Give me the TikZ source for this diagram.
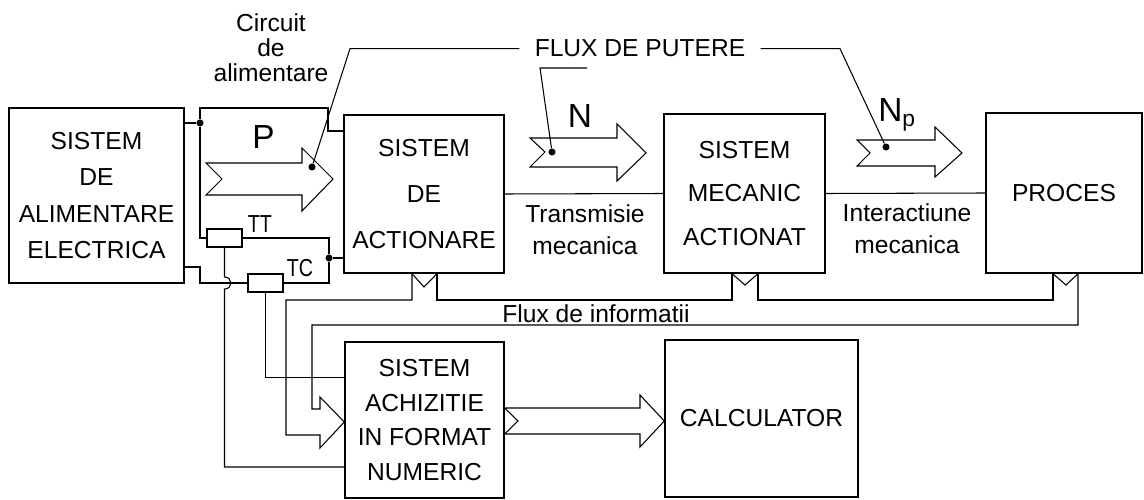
\documentclass[tikz,border=0pt]{standalone}
\usepackage{fontspec}
\setmainfont{Liberation Sans}
\usetikzlibrary{positioning, calc}

\begin{document}
\begin{tikzpicture}[
    x=0.02cm, y=-0.02cm,
    block/.style={draw, line width=0.8pt, rectangle, inner sep=0pt, align=center},
    res/.style={draw, line width=0.7pt, rectangle, minimum width=0.7cm, minimum height=0.36cm, inner sep=0pt},
    wire/.style={line width=0.6pt},
    txt/.style={font=\fontsize{14}{18}\selectfont, align=center, inner sep=0pt},
    small/.style={font=\fontsize{14}{14}\selectfont, inner sep=0pt},
    big/.style={font=\fontsize{19}{19}\selectfont, inner sep=0pt},
    dot/.style={circle, fill, inner sep=0pt, minimum size=4pt}
]
\useasboundingbox (0,0) rectangle (1144,500);

% Blocks
\node[block, minimum width=3.5cm, minimum height=3.5cm, font=\fontsize{14}{20.8}\selectfont] (alim) at (96.5,195.5) {SISTEM\\DE\\ALIMENTARE\\ELECTRICA};
\node[block, minimum width=3.2cm, minimum height=3.16cm, font=\fontsize{14}{26}\selectfont] (actionare) at (424,194) {SISTEM\\DE\\ACTIONARE};
\node[block, minimum width=3.22cm, minimum height=3.18cm, font=\fontsize{14}{25}\selectfont] (mecanic) at (744.5,193.5) {SISTEM\\MECANIC\\ACTIONAT};
\node[block, minimum width=3.12cm, minimum height=3.2cm, font=\fontsize{14}{14}\selectfont] (proces) at (1064,193) {PROCES};
\node[block, minimum width=3.18cm, minimum height=3.12cm, font=\fontsize{14}{19.8}\selectfont] (achizitie) at (424.5,420) {SISTEM\\ACHIZITIE\\IN FORMAT\\NUMERIC};
\node[block, minimum width=3.86cm, minimum height=3.14cm, font=\fontsize{14}{14}\selectfont] (calculator) at (761.5,418.5) {CALCULATOR};

% Transducers
\node[res] (tt) at (224.5,238) {};
\node[res] (tc) at (265.5,283) {};
\node[small, anchor=south west, above right=-2.3pt and 2.8pt of tt.north east] {\scalebox{0.8}[1]{TT}};
\node[small, anchor=south west, above right=-2.3pt and 1.7pt of tc.north east] {\scalebox{0.8}[1]{TC}};

% Junctions
\node[dot] (j1) at (200,123) {};
\node[dot] (j2) at (329,258) {};

% Supply circuit
\draw[wire] (alim.east |- j1) -- (j1) -- (200,108) -- (328,108) -- (328,131) -- (actionare.west |- 0,131);
\draw[wire] (j1) |- (tt.west);
\draw[wire] (tt.east) -| (j2);
\draw[wire] (j2) -- (actionare.west |- j2);
\draw[wire] (alim.east |- 0,267) -- (200,267) |- (tc.west);
\draw[wire] (tc.east) -| (j2);
\draw[wire] (tt.south) -- (tt.south |- 0,277) .. controls (233,277) and (233,289) .. (tt.south |- 0,289) -- (tt.south |- 0,467) -- (achizitie.west |- 0,467);
\draw[wire] (tc.south) -- (tc.south |- 0,377.5) -- (achizitie.west |- 0,377.5);

% Mechanical links
\draw[wire] (actionare.east) -- (mecanic.west);
\draw[wire] (mecanic.east) -- (proces.west);

% Power flow arrows
\draw[wire] (206,163) -- (302,163) -- (302,148) -- (333,179) -- (302,211) -- (302,195) -- (206,195) -- (222,179) -- cycle;
\draw[wire] (530,138) -- (617,138) -- (617,124) -- (646,153) -- (617,181) -- (617,167) -- (530,167) -- (545,152) -- cycle;
\draw[wire] (857,140) -- (935,140) -- (935,127) -- (962,153) -- (935,177) -- (935,166) -- (857,166) -- (870,153) -- cycle;
\node[big, anchor=base] (plbl) at (263.5,149) {P};
\node[big, anchor=base] (nlbl) at (580,128) {N};
\node[big, anchor=base west] (nplbl) at (878,122) {N{\fontsize{13}{13}\selectfont\raisebox{-2.3pt}{p}}};

% Leaders
\node[txt, inner xsep=8.5pt, anchor=base] (flux) at (640,57) {FLUX DE PUTERE};
\node[dot] (pdot) at (312,167) {};
\node[dot] (ndot) at (552,152) {};
\node[dot] (npdot) at (886,147) {};
\draw[wire] (pdot) -- (350,0 |- flux.west) -- (flux.west);
\draw[wire] (flux.east) -- (840,0 |- flux.east) -- (npdot);
\draw[wire] (ndot) -- (540,68) -- (587,68);

% Information flow
\draw[wire] (412,0 |- actionare.south) -- (424,287) -- (437,0 |- actionare.south);
\draw[wire] (732,0 |- mecanic.south) -- (745,285) -- (758,0 |- mecanic.south);
\draw[wire] (1053,0 |- proces.south) -- (1066,285) -- (1078,0 |- proces.south);
\draw[wire] (412,0 |- actionare.south) -- (412,300) -- (286,300) -- (286,435) -- (320,435) -- (320,448) -- (achizitie.west |- 0,422) -- (320,397) -- (320,409) -- (312,409) -- (312,325) -- (1078,325) -- (1078,0 |- proces.south);
\draw[wire] (437,0 |- actionare.south) -- (437,300) -- (732,300) -- (732,0 |- mecanic.south);
\draw[wire] (758,0 |- mecanic.south) -- (758,300) -- (1053,300) -- (1053,0 |- proces.south);
\draw[wire] (achizitie.east |- 0,408) -- (640,408) -- (640,395) -- (calculator.west |- 0,421) -- (640,447) -- (640,434) -- (achizitie.east |- 0,434) -- (518,421) -- cycle;

% Labels
\node[txt, font=\fontsize{14}{14.2}\selectfont] (circuit) at (271,48) {Circuit\\de\\alimentare};
\node[txt] (transm) at (585,230) {Transmisie\\mecanica};
\node[txt] (interact) at (907,229) {Interactiune\\mecanica};
\node[txt, anchor=base west] (fluxinfo) at (502,322) {Flux de informatii};

\end{tikzpicture}
\end{document}
